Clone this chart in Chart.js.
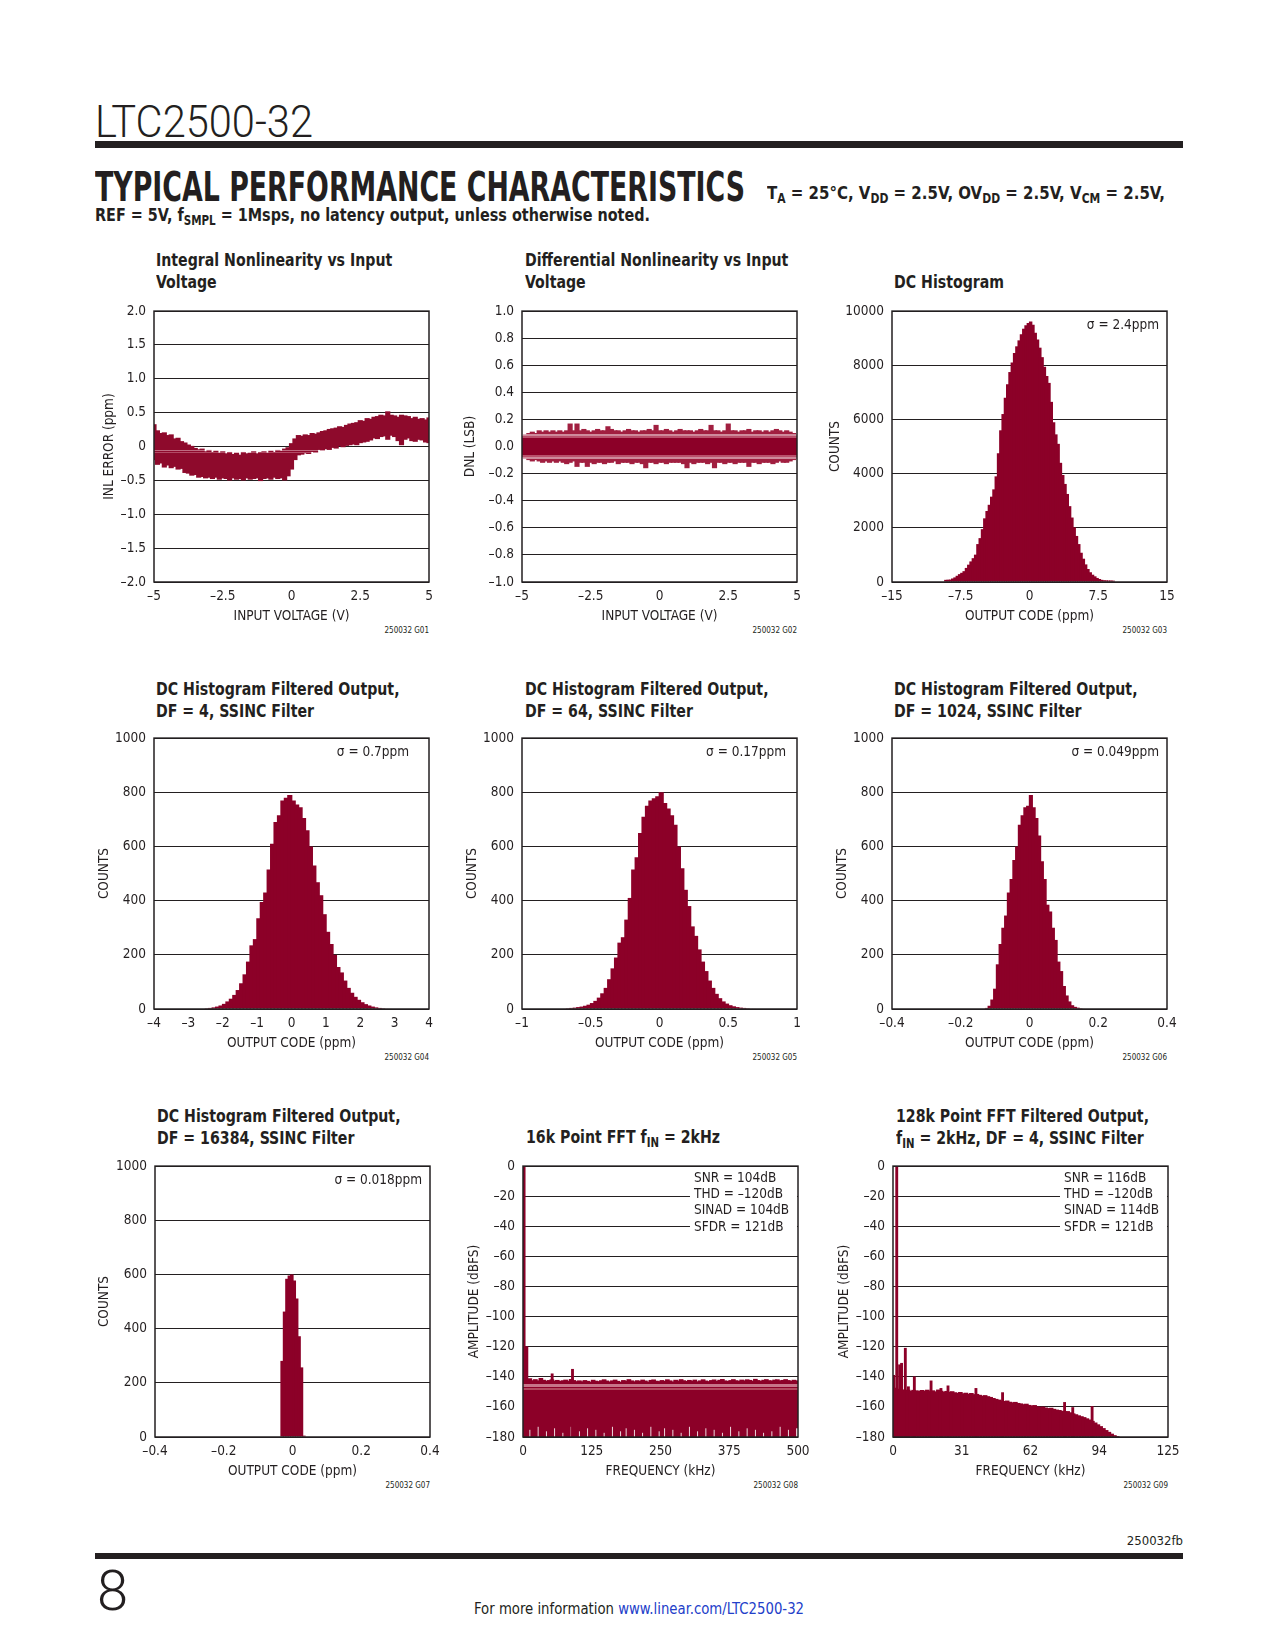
<!DOCTYPE html>
<html>
<head>
<meta charset="utf-8">
<title>LTC2500-32 Typical Performance Characteristics</title>
<script src="https://cdn.jsdelivr.net/npm/chart.js@4.4.1/dist/chart.umd.min.js"></script>
<style>
  html, body { margin: 0; padding: 0; background: #fff; }
  #page { position: relative; width: 1275px; height: 1650px; overflow: hidden; color: #231f20;
          font-family: "Liberation Sans Narrow", "Arial Narrow", "DejaVu Sans Condensed", sans-serif; }
  .abs { position: absolute; white-space: nowrap; }
  .fit { display: inline-block; transform-origin: 0 0; }
  .part { font-family: Roboto, sans-serif; font-weight: 300; font-size: 44px; line-height: 44px; }
  .rule { position: absolute; background: #231f20; }
  .tpc { font-weight: bold; font-size: 40px; line-height: 40px; }
  .cond { font-weight: bold; font-size: 18.5px; line-height: 18.5px; }
  .ctitle { font-weight: bold; font-size: 18.5px; line-height: 21.5px; transform: scaleX(0.85); transform-origin: 0 0; }
  .code { font-size: 8px; line-height: 8px; }
  sub { font-size: 0.72em; vertical-align: -0.28em; line-height: 0; }
  .chartbox { position: absolute; }
  .chartbox canvas { display: block; }
  a { color: #2340c9; text-decoration: none; }
</style>
</head>
<body>
<div id="page">
  <!-- page header -->
  <div class="abs part fit" id="partNo" style="left:95px; top:100px;">LTC2500-32</div>
  <div class="rule" style="left:95px; top:141px; width:1088px; height:7px;"></div>
  <div class="abs tpc fit" id="tpc" style="left:95px; top:167px;">TYPICAL PERFORMANCE CHARACTERISTICS</div>
  <div class="abs cond fit" id="cond" style="left:767px; top:184px;">T<sub>A</sub> = 25°C, V<sub>DD</sub> = 2.5V, OV<sub>DD</sub> = 2.5V, V<sub>CM</sub> = 2.5V,</div>
  <div class="abs cond fit" id="refLine" style="left:95px; top:206px;">REF = 5V, f<sub>SMPL</sub> = 1Msps, no latency output, unless otherwise noted.</div>

  <!-- chart titles -->
  <div class="abs ctitle" style="left:156px; top:249px;">Integral Nonlinearity vs Input<br>Voltage</div>
  <div class="abs ctitle" style="left:525px; top:249px;">Differential Nonlinearity vs Input<br>Voltage</div>
  <div class="abs ctitle" style="left:894px; top:271px;">DC Histogram</div>
  <div class="abs ctitle" style="left:156px; top:678px;">DC Histogram Filtered Output,<br>DF = 4, SSINC Filter</div>
  <div class="abs ctitle" style="left:525px; top:678px;">DC Histogram Filtered Output,<br>DF = 64, SSINC Filter</div>
  <div class="abs ctitle" style="left:894px; top:678px;">DC Histogram Filtered Output,<br>DF = 1024, SSINC Filter</div>
  <div class="abs ctitle" style="left:157px; top:1105px;">DC Histogram Filtered Output,<br>DF = 16384, SSINC Filter</div>
  <div class="abs ctitle" style="left:526px; top:1126px;">16k Point FFT f<sub>IN</sub> = 2kHz</div>
  <div class="abs ctitle" style="left:896px; top:1105px;">128k Point FFT Filtered Output,<br>f<sub>IN</sub> = 2kHz, DF = 4, SSINC Filter</div>

  <!-- graph codes -->
  <div class="abs code" style="right:846px; top:627px;">250032 G01</div>
  <div class="abs code" style="right:478px; top:627px;">250032 G02</div>
  <div class="abs code" style="right:108px; top:627px;">250032 G03</div>
  <div class="abs code" style="right:846px; top:1054px;">250032 G04</div>
  <div class="abs code" style="right:478px; top:1054px;">250032 G05</div>
  <div class="abs code" style="right:108px; top:1054px;">250032 G06</div>
  <div class="abs code" style="right:845px; top:1482px;">250032 G07</div>
  <div class="abs code" style="right:477px; top:1482px;">250032 G08</div>
  <div class="abs code" style="right:107px; top:1482px;">250032 G09</div>

  <!-- page footer -->
  <div class="abs" style="right:92px; top:1534px; font-size:13px; line-height:13px;">250032fb</div>
  <div class="rule" style="left:95px; top:1553px; width:1088px; height:6px;"></div>
  <div class="abs part" style="left:97px; top:1563px; font-size:56px; line-height:56px;">8</div>
  <div class="abs fit" id="footLine" style="left:474px; top:1601px; font-size:16px; line-height:16px;">For more information <a href="http://www.linear.com/LTC2500-32">www.linear.com/LTC2500-32</a></div>
</div>

<script>
// ---- data ----

// INL vs input voltage: sampled every 0.125V from -5V to 5V (ppm)
const INL_X_START = -5, INL_X_STEP = 0.125;
const INL_UPPER = [
  0.33, 0.24, 0.20, 0.21, 0.17, 0.18, 0.12, 0.13, 0.08, 0.06,
  0.03, 0.01, -0.02, -0.04, -0.03, -0.07, -0.05, -0.08, -0.06, -0.09,
  -0.07, -0.10, -0.08, -0.11, -0.09, -0.12, -0.08, -0.10, -0.09, -0.07,
  -0.10, -0.08, -0.07, -0.09, -0.06, -0.08, -0.05, -0.06, -0.03, -0.01,
  0.05, 0.12, 0.17, 0.16, 0.18, 0.17, 0.20, 0.19, 0.21, 0.23,
  0.24, 0.26, 0.27, 0.28, 0.30, 0.29, 0.32, 0.34, 0.35, 0.36,
  0.39, 0.38, 0.42, 0.41, 0.44, 0.45, 0.47, 0.46, 0.52, 0.47,
  0.46, 0.44, 0.47, 0.46, 0.45, 0.42, 0.44, 0.41, 0.42, 0.40,
  0.43
];
const INL_LOWER = [
  -0.20, -0.27, -0.25, -0.31, -0.28, -0.32, -0.30, -0.34, -0.33, -0.39,
  -0.40, -0.43, -0.42, -0.46, -0.45, -0.47, -0.46, -0.48, -0.46, -0.49,
  -0.47, -0.48, -0.50, -0.47, -0.49, -0.48, -0.50, -0.47, -0.49, -0.48,
  -0.47, -0.51, -0.48, -0.47, -0.49, -0.46, -0.48, -0.47, -0.50, -0.44,
  -0.34, -0.20, -0.13, -0.12, -0.10, -0.11, -0.08, -0.09, -0.05, -0.06,
  -0.04, -0.05, -0.02, -0.03, 0.00, -0.01, 0.01, 0.02, 0.03, 0.02,
  0.05, 0.06, 0.07, 0.09, 0.12, 0.11, 0.14, 0.15, 0.10, 0.16,
  0.14, 0.08, 0.02, 0.10, 0.12, 0.08, 0.07, 0.10, 0.09, 0.06,
  0.05
];

// DNL vs input voltage, same sampling (LSB)
const DNL_UPPER = [
  0.08, 0.09, 0.10, 0.11, 0.10, 0.12, 0.11, 0.12, 0.11, 0.12,
  0.11, 0.12, 0.11, 0.12, 0.17, 0.12, 0.17, 0.12, 0.13, 0.12,
  0.11, 0.12, 0.13, 0.12, 0.12, 0.15, 0.13, 0.12, 0.12, 0.11,
  0.12, 0.13, 0.12, 0.12, 0.11, 0.12, 0.12, 0.13, 0.12, 0.16,
  0.12, 0.12, 0.13, 0.12, 0.11, 0.12, 0.13, 0.12, 0.12, 0.12,
  0.11, 0.12, 0.13, 0.12, 0.12, 0.16, 0.12, 0.12, 0.11, 0.12,
  0.17, 0.12, 0.12, 0.11, 0.12, 0.12, 0.13, 0.11, 0.12, 0.12,
  0.11, 0.12, 0.11, 0.12, 0.13, 0.12, 0.11, 0.12, 0.11, 0.10,
  0.09
];
const DNL_LOWER = [
  -0.08, -0.09, -0.10, -0.11, -0.10, -0.11, -0.12, -0.11, -0.12, -0.11,
  -0.12, -0.11, -0.12, -0.13, -0.12, -0.11, -0.15, -0.12, -0.12, -0.15,
  -0.12, -0.13, -0.12, -0.12, -0.13, -0.12, -0.12, -0.11, -0.13, -0.12,
  -0.12, -0.12, -0.13, -0.12, -0.12, -0.13, -0.16, -0.12, -0.12, -0.13,
  -0.12, -0.12, -0.13, -0.12, -0.12, -0.12, -0.12, -0.13, -0.16, -0.12,
  -0.13, -0.12, -0.12, -0.12, -0.13, -0.12, -0.16, -0.12, -0.12, -0.13,
  -0.12, -0.12, -0.13, -0.12, -0.12, -0.12, -0.15, -0.12, -0.12, -0.13,
  -0.12, -0.12, -0.12, -0.13, -0.12, -0.11, -0.12, -0.12, -0.11, -0.10,
  -0.09
];

// DC histogram, 0.25ppm bins from -9.25ppm
const DC_BIN_START = -9.25, DC_BIN_WIDTH = 0.25;
const DC_COUNTS = [
  80, 85, 90, 130, 170, 230, 290, 340, 400, 520,
  640, 760, 880, 1010, 1400, 1620, 1950, 2350, 2620, 2850,
  3150, 3420, 3900, 4750, 5600, 6200, 6800, 7300, 7750, 8100,
  8450, 8700, 8920, 9150, 9350, 9480, 9560, 9620, 9500, 9200,
  8950, 8650, 8300, 7950, 7600, 7350, 6650, 5900, 5450, 5100,
  4400, 3950, 3620, 3250, 2800, 2380, 2020, 1700, 1400, 1080,
  860, 650, 480, 360, 270, 210, 150, 110, 80, 65,
  60, 55, 55, 50
];

// DF = 4, 0.1ppm bins from -2.5ppm
const DF4_BIN_START = -2.5, DF4_BIN_WIDTH = 0.1;
const DF4_COUNTS = [
  3, 4, 6, 9, 13, 19, 28, 38, 52, 70,
  95, 128, 175, 235, 258, 335, 395, 430, 515, 610,
  690, 715, 770, 780, 790, 770, 755, 745, 705, 660,
  600, 530, 468, 420, 350, 285, 240, 200, 155, 135,
  105, 78, 60, 45, 34, 25, 18, 13, 9, 6,
  4, 3, 2, 2
];

// DF = 64, 0.025ppm bins from -0.7ppm
const DF64_BIN_START = -0.7, DF64_BIN_WIDTH = 0.025;
const DF64_COUNTS = [
  2, 3, 4, 5, 7, 9, 12, 16, 22, 30,
  42, 58, 78, 110, 150, 190, 245, 265, 330, 410,
  515, 560, 650, 710, 750, 770, 778, 785, 800, 760,
  740, 715, 680, 600, 520, 440, 380, 305, 270, 220,
  175, 140, 105, 78, 56, 40, 28, 20, 14, 10,
  7, 5, 4, 3, 2, 2
];

// DF = 1024, 0.008ppm bins from -0.128ppm
const DF1024_BIN_START = -0.128, DF1024_BIN_WIDTH = 0.008;
const DF1024_COUNTS = [
  4, 12, 35, 75, 165, 240, 300, 345, 430, 480,
  550, 600, 680, 715, 745, 750, 790, 745, 705, 640,
  545, 480, 385, 360, 300, 255, 175, 140, 85, 50,
  28, 14, 8, 5, 3, 2
];

// DF = 16384, 0.007ppm bins from -0.0335ppm
const DF16384_BIN_START = -0.0335, DF16384_BIN_WIDTH = 0.007;
const DF16384_COUNTS = [281, 463, 584, 596, 600, 578, 511, 372, 257, 5];

// 16k point FFT: noise floor in 5kHz bins (top and bottom of the band, dBFS)
const FFT16K_BIN_CENTER0 = 2.5, FFT16K_BIN_WIDTH = 5;
const FFT16K_FLOOR_TOP = [
  -141.5, -142.0, -141.2, -142.5, -141.8, -142.6, -141.0, -142.2, -142.8, -142.4,
  -141.9, -142.7, -142.3, -143.0, -142.5, -142.1, -142.8, -141.7, -142.4, -143.1,
  -142.6, -143.2, -142.4, -142.9, -143.4, -142.2, -142.8, -143.1, -142.5, -141.9,
  -142.7, -143.3, -142.6, -142.1, -142.9, -143.5, -142.4, -142.8, -141.8, -142.6,
  -143.2, -142.5, -142.9, -142.1, -142.7, -143.4, -142.3, -142.0, -142.8, -143.1,
  -142.4, -142.9, -141.9, -142.6, -143.3, -142.2, -142.7, -141.8, -142.5, -143.0,
  -142.3, -142.8, -142.1, -143.2, -142.6, -141.9, -142.7, -143.1, -142.4, -142.0,
  -142.9, -142.2, -141.7, -142.6, -143.0, -142.4, -141.8, -142.5, -142.9, -142.1,
  -142.6, -141.9, -142.3, -142.8, -141.6, -142.4, -142.9, -142.2, -141.8, -142.5,
  -142.7, -142.1, -141.9, -142.6, -142.3, -141.8, -142.4, -142.9, -142.2, -142.6
];
const FFT16K_FLOOR_BOTTOM = [
  -180, -180, -175, -180, -180, -173, -180, -180, -176, -180,
  -180, -174, -180, -180, -177, -180, -180, -173, -180, -180,
  -176, -180, -180, -174, -180, -180, -175, -180, -180, -177,
  -180, -180, -173, -180, -180, -176, -180, -174, -180, -180,
  -175, -180, -180, -177, -180, -180, -173, -180, -180, -176,
  -180, -174, -180, -180, -175, -180, -180, -177, -180, -180,
  -173, -180, -180, -176, -180, -180, -174, -180, -180, -175,
  -180, -180, -177, -180, -180, -173, -180, -180, -176, -180,
  -180, -174, -180, -180, -175, -180, -180, -177, -180, -180,
  -176, -180, -180, -173, -180, -180, -175, -180, -180, -174
];
// fundamental, near-in spur and harmonics (kHz, dBFS)
const FFT16K_TONE_FREQ = [2, 4.5, 7, 53, 90];
const FFT16K_TONE_DB = [0, -120, -120, -138, -135];

// 128k point FFT, DF = 4: noise floor in 1.25kHz bins (dBFS)
const FFT128K_BIN_WIDTH = 1.25;
const FFT128K_FLOOR = [
  -147.5, -148.2, -149.0, -148.6, -149.3, -148.8, -149.5, -148.9, -149.2, -149.6,
  -149.0, -149.4, -148.8, -149.7, -149.2, -149.9, -148.7, -149.5, -150.1, -149.6,
  -150.2, -149.8, -150.5, -150.9, -150.3, -151.2, -150.8, -151.5, -151.0, -151.8,
  -151.6, -152.2, -152.8, -152.4, -153.1, -153.6, -154.3, -154.9, -155.4, -156.0,
  -156.3, -156.0, -156.8, -157.2, -156.9, -157.6, -157.9, -158.4, -158.1, -158.9,
  -159.3, -159.0, -159.8, -160.2, -160.0, -160.6, -161.0, -160.8, -161.5, -162.0,
  -162.3, -162.8, -163.2, -163.0, -163.8, -164.5, -165.1, -165.8, -166.4, -167.0,
  -167.8, -168.6, -169.5, -170.6, -171.8, -173.0, -174.3, -175.6, -176.8, -178.0,
  -179.0, -179.8
];
const FFT128K_TONE_FREQ = [0.3, 1.7, 3.0, 3.9, 5.6, 7.0, 9.7, 17.3, 21.8, 25.0, 37.7, 49.8, 78.0, 81.7, 90.5];
const FFT128K_TONE_DB = [-139, 0, -132, -131, -121, -146.6, -140, -142.7, -147.7, -146, -147.7, -150.5, -157, -160.4, -159.7];
const FFT128K_TICK_LABELS = ['0', '31', '62', '94', '125'];

const FFT16K_STATS = ['SNR = 104dB', 'THD = \u2013120dB', 'SINAD = 104dB', 'SFDR = 121dB'];
const FFT128K_STATS = ['SNR = 116dB', 'THD = \u2013120dB', 'SINAD = 114dB', 'SFDR = 121dB'];

// ---- styling ----
const INK = '#231f20';
const RED = '#8c0028';
const FONT = '"Liberation Sans Narrow", "Arial Narrow", "DejaVu Sans Condensed", sans-serif';
const AXIS_FONT = { family: FONT, size: 13.5 };
const PLOT = 275, PAD_T = 12, PAD_R = 22, PAD_B = 43;

// ---- helpers ----
const dash = s => s.replace('-', '\u2013');
const plain = v => dash(String(Math.round(v * 10000) / 10000));
const oneDec = v => dash(v.toFixed(1));
const oneDecZero = v => (Math.abs(v) < 1e-9 ? '0' : dash(v.toFixed(1)));

function binned(start, width, counts) {
  return counts.map((c, i) => ({ x: start + width * (i + 0.5), y: c }));
}
function banded(x0, step, lo, hi) {
  return lo.map((l, i) => ({ x: x0 + step * i, y: [l, hi[i]] }));
}
function tones(freqs, levels, floor) {
  return freqs.map((f, i) => ({ x: f, y: [floor, levels[i]] }));
}

// horizontal colour stripes inside a band (stripes listed top to bottom)
function stripeFill(base, stripes) {
  return (c) => {
    const chart = c.chart, area = chart.chartArea, y = chart.scales.y;
    if (!area || !y) return base;
    const g = chart.ctx.createLinearGradient(0, area.top, 0, area.bottom);
    const off = v => Math.min(1, Math.max(0, (y.getPixelForValue(v) - area.top) / area.height));
    g.addColorStop(0, base);
    stripes.forEach(([hi, lo, col]) => {
      const a = off(hi), b = off(lo);
      g.addColorStop(a, base); g.addColorStop(a, col);
      g.addColorStop(b, col); g.addColorStop(b, base);
    });
    g.addColorStop(1, base);
    return g;
  };
}

// plot frame, sigma note and FFT result box
const framePlugin = {
  id: 'frame',
  afterDatasetsDraw(chart, args, opts) {
    const { ctx, chartArea: a } = chart;
    ctx.save();
    ctx.font = `13.5px ${FONT}`;
    ctx.textBaseline = 'middle';
    if (opts.sigma) {
      ctx.fillStyle = INK;
      ctx.textAlign = 'right';
      ctx.fillText(opts.sigma, a.right - opts.sigmaRight, a.top + 14.5);
    }
    if (opts.stats) {
      const x0 = a.left + opts.statsLeft;
      ctx.fillStyle = '#fff';
      ctx.fillRect(x0 - 4, a.top + 2, a.right - x0 + 3, opts.stats.length * 16.3 + 2);
      ctx.fillStyle = INK;
      ctx.textAlign = 'left';
      opts.stats.forEach((t, i) => ctx.fillText(t, x0, a.top + 12 + i * 16.3));
    }
    ctx.strokeStyle = INK;
    ctx.lineWidth = 1.5;
    ctx.strokeRect(a.left, a.top, a.width, a.height);
    ctx.restore();
  }
};

function makeChart(id, s) {
  const box = document.createElement('div');
  box.className = 'chartbox';
  box.style.left = (s.left - s.padL) + 'px';
  box.style.top = (s.top - PAD_T) + 'px';
  const cv = document.createElement('canvas');
  cv.id = id;
  cv.width = s.padL + PLOT + PAD_R;
  cv.height = PAD_T + PLOT + PAD_B;
  box.appendChild(cv);
  document.getElementById('page').appendChild(box);

  return new Chart(cv.getContext('2d'), {
    type: 'bar',
    data: { datasets: s.datasets },
    options: {
      responsive: false,
      animation: false,
      layout: { padding: { top: PAD_T, right: PAD_R, left: 0, bottom: 0 } },
      // bars overlap a little so neighbouring bins fill solid, without seams
      datasets: { bar: { grouped: false, borderWidth: 0, barPercentage: 1.5, categoryPercentage: 1 } },
      plugins: {
        legend: { display: false },
        tooltip: { enabled: false },
        frame: s.frame || {}
      },
      scales: {
        x: {
          type: 'linear', min: s.x[0], max: s.x[1], offset: false,
          grid: { display: false, drawTicks: false, offset: false },
          border: { display: false },
          ticks: { stepSize: s.x[2], autoSkip: false, maxRotation: 0, padding: 6,
                   color: INK, font: AXIS_FONT, callback: s.xLabel || plain },
          title: { display: true, text: s.xTitle, color: INK, font: AXIS_FONT, padding: 0 },
          afterFit: sc => { sc.height = PAD_B; }
        },
        y: {
          min: s.y[0], max: s.y[1],
          grid: { color: INK, lineWidth: 1, drawTicks: false },
          border: { display: false },
          ticks: { stepSize: s.y[2], padding: 8, color: INK, font: AXIS_FONT,
                   callback: s.yLabel || plain },
          title: { display: true, text: s.yTitle, color: INK, font: AXIS_FONT, padding: 0 },
          afterFit: sc => { sc.width = s.padL; }
        }
      }
    },
    plugins: [framePlugin]
  });
}

// ---- row 1 ----
makeChart('g01', {
  left: 154, top: 307, padL: 53,
  x: [-5, 5, 2.5], y: [-2, 2, 0.5], yLabel: oneDecZero,
  xTitle: 'INPUT VOLTAGE (V)', yTitle: 'INL ERROR (ppm)',
  datasets: [{
    data: banded(INL_X_START, INL_X_STEP, INL_LOWER, INL_UPPER),
    backgroundColor: stripeFill('#8e0a2c', [[-0.045, -0.06, '#c06a80'], [-0.08, -0.1, '#b24a64']])
  }]
});

makeChart('g02', {
  left: 522, top: 307, padL: 60,
  x: [-5, 5, 2.5], y: [-1, 1, 0.2], yLabel: oneDec,
  xTitle: 'INPUT VOLTAGE (V)', yTitle: 'DNL (LSB)',
  datasets: [{
    data: banded(INL_X_START, INL_X_STEP, DNL_LOWER, DNL_UPPER),
    backgroundColor: stripeFill('#a11f40', [
      [0.095, 0.08, '#cf8a9c'], [0.08, 0.064, '#b9506b'], [0.064, -0.064, RED],
      [-0.064, -0.08, '#b9506b'], [-0.08, -0.095, '#cf8a9c']
    ])
  }]
});

makeChart('g03', {
  left: 892, top: 307, padL: 65,
  x: [-15, 15, 7.5], y: [0, 10000, 2000],
  xTitle: 'OUTPUT CODE (ppm)', yTitle: 'COUNTS',
  frame: { sigma: '\u03c3 = 2.4ppm', sigmaRight: 8 },
  datasets: [{ data: binned(DC_BIN_START, DC_BIN_WIDTH, DC_COUNTS), backgroundColor: RED }]
});

// ---- row 2 ----
makeChart('g04', {
  left: 154, top: 734, padL: 58,
  x: [-4, 4, 1], y: [0, 1000, 200],
  xTitle: 'OUTPUT CODE (ppm)', yTitle: 'COUNTS',
  frame: { sigma: '\u03c3 = 0.7ppm', sigmaRight: 20 },
  datasets: [{ data: binned(DF4_BIN_START, DF4_BIN_WIDTH, DF4_COUNTS), backgroundColor: RED }]
});

makeChart('g05', {
  left: 522, top: 734, padL: 58,
  x: [-1, 1, 0.5], y: [0, 1000, 200],
  xTitle: 'OUTPUT CODE (ppm)', yTitle: 'COUNTS',
  frame: { sigma: '\u03c3 = 0.17ppm', sigmaRight: 11 },
  datasets: [{ data: binned(DF64_BIN_START, DF64_BIN_WIDTH, DF64_COUNTS), backgroundColor: RED }]
});

makeChart('g06', {
  left: 892, top: 734, padL: 58,
  x: [-0.4, 0.4, 0.2], y: [0, 1000, 200],
  xTitle: 'OUTPUT CODE (ppm)', yTitle: 'COUNTS',
  frame: { sigma: '\u03c3 = 0.049ppm', sigmaRight: 8 },
  datasets: [{ data: binned(DF1024_BIN_START, DF1024_BIN_WIDTH, DF1024_COUNTS), backgroundColor: RED }]
});

// ---- row 3 ----
makeChart('g07', {
  left: 155, top: 1162, padL: 59,
  x: [-0.4, 0.4, 0.2], y: [0, 1000, 200],
  xTitle: 'OUTPUT CODE (ppm)', yTitle: 'COUNTS',
  frame: { sigma: '\u03c3 = 0.018ppm', sigmaRight: 8 },
  datasets: [{ data: binned(DF16384_BIN_START, DF16384_BIN_WIDTH, DF16384_COUNTS), backgroundColor: RED }]
});

makeChart('g08', {
  left: 523, top: 1162, padL: 57,
  x: [0, 500, 125], y: [-180, 0, 20],
  xTitle: 'FREQUENCY (kHz)', yTitle: 'AMPLITUDE (dBFS)',
  frame: { stats: FFT16K_STATS, statsLeft: 171 },
  datasets: [
    {
      data: banded(FFT16K_BIN_CENTER0, FFT16K_BIN_WIDTH, FFT16K_FLOOR_BOTTOM, FFT16K_FLOOR_TOP),
      barThickness: 4,
      backgroundColor: stripeFill(RED, [[-145, -146.5, '#c77489'], [-147.5, -149, '#b3485f']])
    },
    { data: tones(FFT16K_TONE_FREQ, FFT16K_TONE_DB, -180), barThickness: 2.2, backgroundColor: RED }
  ]
});

makeChart('g09', {
  left: 893, top: 1162, padL: 57,
  x: [0, 125, 31.25], y: [-180, 0, 20], xLabel: (v, i) => FFT128K_TICK_LABELS[i],
  xTitle: 'FREQUENCY (kHz)', yTitle: 'AMPLITUDE (dBFS)',
  frame: { stats: FFT128K_STATS, statsLeft: 171 },
  datasets: [
    { data: binned(0, FFT128K_BIN_WIDTH, FFT128K_FLOOR), base: -180, barThickness: 4, backgroundColor: RED },
    { data: tones(FFT128K_TONE_FREQ, FFT128K_TONE_DB, -180), barThickness: 2.2, backgroundColor: RED }
  ]
});

// ---- stretch header lines to the widths on the page ----
function fitWidth(id, w) {
  const el = document.getElementById(id);
  const r = el.getBoundingClientRect().width;
  if (r > 0) el.style.transform = `scaleX(${w / r})`;
}
fitWidth('partNo', 218);
fitWidth('tpc', 650);
fitWidth('cond', 398);
fitWidth('refLine', 555);
fitWidth('footLine', 330);
</script>
</body>
</html>
